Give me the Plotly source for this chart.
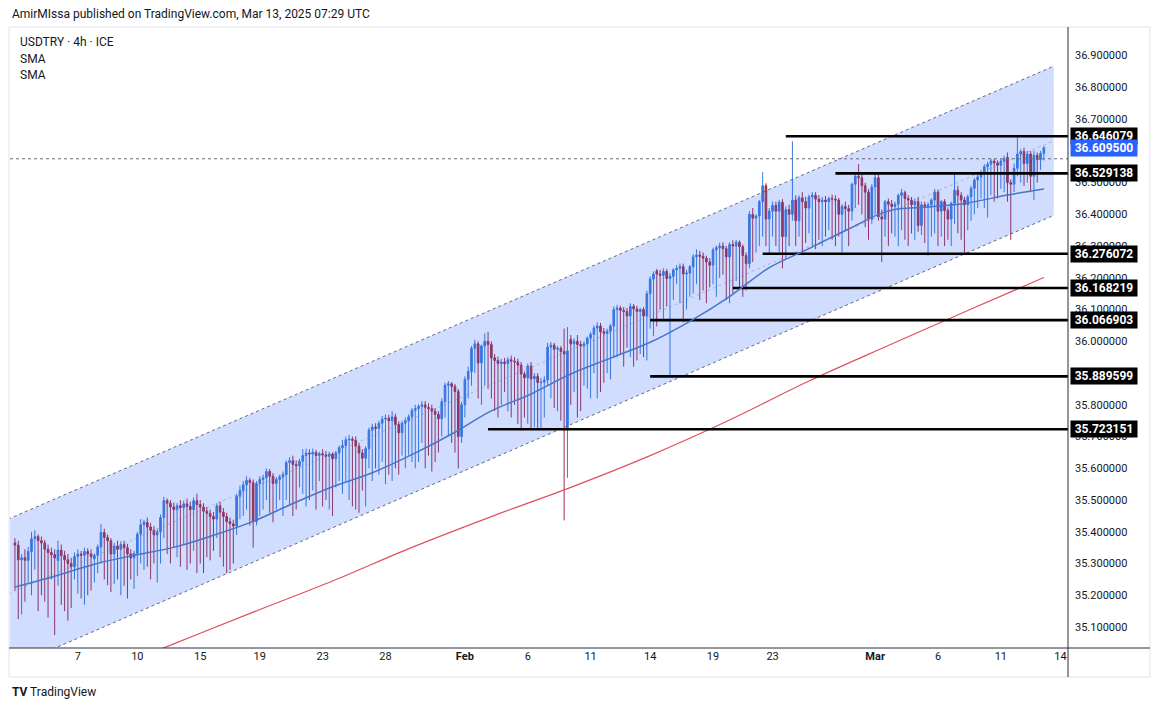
import pandas as pd
import plotly.graph_objects as go

# ---------------- data (USDTRY 4h) ----------------
OPEN = [
    35.365, 35.358, 35.312, 35.318, 35.310, 35.338,   # Jan 2
    35.378, 35.385, 35.372, 35.365, 35.345, 35.335,   # Jan 3
    35.328,                                           # Jan 5 (Sun)
    35.310, 35.342, 35.325, 35.312, 35.300, 35.290,   # Jan 6
    35.322, 35.330, 35.326, 35.338, 35.330, 35.315,   # Jan 7
    35.326, 35.352, 35.398, 35.382, 35.372, 35.330,   # Jan 8
    35.355, 35.345, 35.360, 35.350, 35.330, 35.318,   # Jan 9
    35.332, 35.392, 35.422, 35.430, 35.415, 35.405,   # Jan 10
    35.390,                                           # Jan 12
    35.400, 35.445, 35.498, 35.490, 35.478, 35.470,   # Jan 13
    35.482, 35.476, 35.488, 35.480, 35.470, 35.498,   # Jan 14
    35.486, 35.478, 35.465, 35.458, 35.448, 35.440,   # Jan 15
    35.482, 35.462, 35.448, 35.432, 35.425, 35.418,   # Jan 16
    35.512, 35.530, 35.548, 35.562, 35.555, 35.432,   # Jan 17
    35.552,                                           # Jan 19
    35.565, 35.570, 35.590, 35.575, 35.552, 35.565,   # Jan 20
    35.572, 35.580, 35.618, 35.624, 35.612, 35.608,   # Jan 21
    35.622, 35.640, 35.648, 35.645, 35.650, 35.640,   # Jan 22
    35.646, 35.642, 35.638, 35.645, 35.630, 35.648,   # Jan 23
    35.665, 35.672, 35.690, 35.692, 35.688, 35.670,   # Jan 24
    35.648,                                           # Jan 26
    35.632, 35.662, 35.720, 35.730, 35.726, 35.742,   # Jan 27
    35.755, 35.758, 35.750, 35.762, 35.738, 35.712,   # Jan 28
    35.742, 35.750, 35.762, 35.782, 35.788, 35.795,   # Jan 29
    35.800, 35.792, 35.788, 35.780, 35.770, 35.756,   # Jan 30
    35.810, 35.862, 35.866, 35.858, 35.842, 35.700,   # Jan 31
    35.800,                                           # Feb 2
    35.880, 35.905, 35.978, 35.992, 35.932, 35.985,   # Feb 3
    36.000, 35.990, 35.948, 35.940, 35.930, 35.935,   # Feb 4
    35.930, 35.942, 35.938, 35.935, 35.925, 35.897,   # Feb 5
    35.885, 35.922, 35.882, 35.890, 35.870, 35.872,   # Feb 6
    35.878, 35.982, 35.988, 35.975, 35.978, 35.968,   # Feb 7
    35.723,                                           # Feb 9
    36.006, 35.992, 36.000, 35.990, 35.985, 35.992,   # Feb 10
    36.010, 36.022, 36.042, 36.048, 36.030, 36.025,   # Feb 11
    36.032, 36.048, 36.100, 36.105, 36.098, 36.094,   # Feb 12
    36.080, 36.110, 36.102, 36.094, 36.100, 36.080,   # Feb 13
    36.150, 36.196, 36.222, 36.212, 36.208, 36.220,   # Feb 14
    36.198,                                           # Feb 16
    36.205, 36.225, 36.230, 36.235, 36.212, 36.215,   # Feb 17
    36.235, 36.266, 36.272, 36.268, 36.262, 36.250,   # Feb 18
    36.240, 36.288, 36.295, 36.300, 36.292, 36.266,   # Feb 19
    36.305, 36.300, 36.312, 36.298, 36.270, 36.245,   # Feb 20
    36.400, 36.388, 36.395, 36.440, 36.490, 36.385,   # Feb 21
    36.410,                                           # Feb 23
    36.428, 36.410, 36.438, 36.330, 36.415, 36.400,   # Feb 24
    36.445, 36.380, 36.452, 36.440, 36.420, 36.455,   # Feb 25
    36.460, 36.448, 36.440, 36.445, 36.440, 36.450,   # Feb 26
    36.448, 36.445, 36.400, 36.425, 36.418, 36.410,   # Feb 27
    36.495, 36.520, 36.515, 36.490, 36.470, 36.385,   # Feb 28
    36.486,                                           # Mar 2
    36.515, 36.392, 36.385, 36.440, 36.432, 36.425,   # Mar 3
    36.432, 36.460, 36.468, 36.450, 36.445, 36.430,   # Mar 4
    36.440, 36.365, 36.430, 36.425, 36.430, 36.445,   # Mar 5
    36.470, 36.410, 36.440, 36.412, 36.385, 36.435,   # Mar 6
    36.476, 36.460, 36.445, 36.430, 36.455, 36.482,   # Mar 7
    36.508,                                           # Mar 9
    36.518, 36.532, 36.550, 36.558, 36.568, 36.562,   # Mar 10
    36.555, 36.568, 36.580, 36.500, 36.495, 36.545,   # Mar 11
    36.590, 36.598, 36.560, 36.590, 36.520, 36.586,   # Mar 12
    36.572, 36.592,                                   # Mar 13
]
HIGH = [
    35.380, 35.372, 35.330, 35.345, 35.352, 35.400,
    35.405, 35.392, 35.385, 35.375, 35.360, 35.350,
    35.345,
    35.372, 35.360, 35.340, 35.330, 35.318, 35.335,
    35.345, 35.340, 35.350, 35.348, 35.345, 35.332,
    35.360, 35.425, 35.410, 35.392, 35.380, 35.365,
    35.372, 35.370, 35.372, 35.362, 35.345, 35.340,
    35.400, 35.440, 35.438, 35.445, 35.428, 35.418,
    35.410,
    35.455, 35.510, 35.505, 35.500, 35.492, 35.490,
    35.500, 35.498, 35.505, 35.495, 35.508, 35.520,
    35.500, 35.490, 35.478, 35.470, 35.462, 35.490,
    35.495, 35.475, 35.460, 35.445, 35.438, 35.520,
    35.545, 35.560, 35.575, 35.570, 35.565, 35.560,
    35.575,
    35.580, 35.600, 35.598, 35.585, 35.572, 35.580,
    35.590, 35.625, 35.635, 35.640, 35.625, 35.630,
    35.660, 35.662, 35.660, 35.662, 35.658, 35.652,
    35.660, 35.655, 35.652, 35.650, 35.655, 35.672,
    35.690, 35.700, 35.705, 35.700, 35.700, 35.680,
    35.660,
    35.670, 35.728, 35.740, 35.742, 35.750, 35.765,
    35.770, 35.768, 35.780, 35.772, 35.748, 35.750,
    35.760, 35.770, 35.790, 35.800, 35.802, 35.812,
    35.812, 35.805, 35.800, 35.790, 35.780, 35.820,
    35.870, 35.875, 35.872, 35.866, 35.850, 35.810,
    35.890,
    35.920, 35.985, 36.005, 36.000, 35.990, 36.025,
    36.030, 36.000, 35.960, 35.952, 35.945, 35.948,
    35.950, 35.955, 35.950, 35.945, 35.935, 35.905,
    35.930, 35.935, 35.900, 35.900, 35.885, 35.890,
    35.995, 35.998, 35.995, 35.985, 35.985, 36.040,
    36.045,
    36.020, 36.010, 36.020, 36.002, 36.000, 36.015,
    36.030, 36.050, 36.060, 36.058, 36.042, 36.040,
    36.055, 36.110, 36.115, 36.112, 36.108, 36.105,
    36.120, 36.118, 36.112, 36.105, 36.108, 36.160,
    36.205, 36.220, 36.228, 36.225, 36.230, 36.228,
    36.215,
    36.230, 36.240, 36.245, 36.245, 36.225, 36.240,
    36.275, 36.290, 36.285, 36.280, 36.270, 36.262,
    36.295, 36.302, 36.310, 36.312, 36.300, 36.312,
    36.318, 36.320, 36.318, 36.305, 36.280, 36.410,
    36.420, 36.400, 36.445, 36.533, 36.498, 36.420,
    36.440,
    36.440, 36.445, 36.448, 36.425, 36.430, 36.630,
    36.460, 36.460, 36.470, 36.455, 36.462, 36.470,
    36.470, 36.460, 36.455, 36.458, 36.455, 36.462,
    36.460, 36.452, 36.432, 36.440, 36.430, 36.500,
    36.525, 36.558, 36.525, 36.500, 36.480, 36.495,
    36.530,
    36.525, 36.415, 36.445, 36.450, 36.445, 36.440,
    36.465, 36.480, 36.475, 36.460, 36.455, 36.450,
    36.455, 36.440, 36.440, 36.438, 36.450, 36.480,
    36.478, 36.445, 36.448, 36.422, 36.440, 36.530,
    36.490, 36.470, 36.455, 36.462, 36.490, 36.515,
    36.525,
    36.540, 36.558, 36.565, 36.575, 36.575, 36.570,
    36.575, 36.585, 36.595, 36.510, 36.560, 36.646,
    36.605, 36.610, 36.600, 36.600, 36.600, 36.595,
    36.600, 36.615,
]
LOW = [
    35.215, 35.125, 35.140, 35.180, 35.240, 35.200,
    35.280, 35.150, 35.200, 35.180, 35.130, 35.250,
    35.075,
    35.230, 35.170, 35.150, 35.120, 35.160, 35.250,
    35.205, 35.190, 35.170, 35.200, 35.215, 35.240,
    35.270, 35.300, 35.250, 35.232, 35.210, 35.235,
    35.250, 35.200, 35.230, 35.190, 35.250, 35.220,
    35.260, 35.300, 35.280, 35.290, 35.250, 35.300,
    35.240,
    35.300, 35.380, 35.330, 35.300, 35.350, 35.320,
    35.290, 35.360, 35.280, 35.300, 35.340, 35.270,
    35.300, 35.270, 35.320, 35.310, 35.340, 35.380,
    35.320, 35.290, 35.270, 35.280, 35.300, 35.390,
    35.440, 35.450, 35.470, 35.420, 35.350, 35.420,
    35.450,
    35.470, 35.500, 35.460, 35.430, 35.470, 35.500,
    35.450, 35.500, 35.480, 35.450, 35.470, 35.540,
    35.520, 35.480, 35.500, 35.530, 35.470, 35.560,
    35.480, 35.500, 35.470, 35.450, 35.540, 35.560,
    35.520, 35.560, 35.500, 35.480, 35.470, 35.460,
    35.530,
    35.480, 35.600, 35.560, 35.600, 35.580, 35.620,
    35.550, 35.580, 35.560, 35.600, 35.580, 35.640,
    35.600, 35.640, 35.620, 35.600, 35.620, 35.680,
    35.600, 35.640, 35.590, 35.620, 35.650, 35.700,
    35.760, 35.700, 35.680, 35.650, 35.600, 35.680,
    35.760,
    35.820, 35.860, 35.900, 35.820, 35.800, 35.860,
    35.850, 35.820, 35.780, 35.760, 35.800, 35.840,
    35.780, 35.760, 35.800, 35.740, 35.720, 35.760,
    35.740, 35.720, 35.730, 35.720, 35.725, 35.760,
    35.860, 35.820, 35.790, 35.780, 35.750, 35.436,
    35.570,
    35.800, 35.840, 35.760, 35.780, 35.860, 35.850,
    35.820, 35.900, 35.820, 35.840, 35.870, 35.900,
    35.880, 35.950, 35.950, 35.960, 35.920, 35.980,
    35.950, 35.920, 35.940, 35.960, 35.950, 35.940,
    36.040, 36.016, 36.047, 36.100, 36.072, 36.110,
    35.890,
    36.130, 36.180, 36.120, 36.060, 36.100, 36.140,
    36.150, 36.180, 36.130, 36.160, 36.120, 36.170,
    36.180, 36.140, 36.200, 36.210, 36.130, 36.120,
    36.150, 36.190, 36.170, 36.140, 36.160, 36.230,
    36.250, 36.280, 36.300, 36.330, 36.300, 36.276,
    36.330,
    36.300, 36.280, 36.230, 36.260, 36.300, 36.380,
    36.300, 36.330, 36.280, 36.310, 36.340, 36.300,
    36.290, 36.320, 36.300, 36.330, 36.350, 36.320,
    36.300, 36.330, 36.280, 36.350, 36.300, 36.380,
    36.420, 36.430, 36.400, 36.360, 36.320, 36.370,
    36.400,
    36.380, 36.250, 36.330, 36.300, 36.340, 36.330,
    36.300, 36.350, 36.320, 36.300, 36.340, 36.320,
    36.345, 36.335, 36.310, 36.270, 36.330, 36.340,
    36.300, 36.330, 36.300, 36.320, 36.300, 36.370,
    36.340, 36.320, 36.280, 36.350, 36.380, 36.400,
    36.420,
    36.450, 36.420, 36.390, 36.460, 36.440, 36.450,
    36.480, 36.470, 36.440, 36.320, 36.470, 36.520,
    36.500, 36.490, 36.500, 36.470, 36.445, 36.500,
    36.540, 36.570,
]
CLOSE = [
    35.358, 35.312, 35.318, 35.310, 35.338, 35.378,
    35.385, 35.372, 35.365, 35.345, 35.335, 35.328,
    35.318,
    35.342, 35.325, 35.312, 35.300, 35.290, 35.322,
    35.330, 35.326, 35.338, 35.330, 35.322, 35.326,
    35.352, 35.398, 35.382, 35.372, 35.330, 35.355,
    35.345, 35.360, 35.350, 35.330, 35.318, 35.332,
    35.392, 35.422, 35.430, 35.415, 35.405, 35.390,
    35.400,
    35.445, 35.498, 35.490, 35.478, 35.470, 35.482,
    35.476, 35.488, 35.480, 35.470, 35.498, 35.486,
    35.478, 35.465, 35.458, 35.448, 35.440, 35.482,
    35.462, 35.448, 35.432, 35.425, 35.418, 35.512,
    35.530, 35.548, 35.562, 35.555, 35.432, 35.552,
    35.565,
    35.570, 35.590, 35.575, 35.552, 35.565, 35.572,
    35.580, 35.618, 35.624, 35.612, 35.608, 35.622,
    35.640, 35.648, 35.645, 35.650, 35.640, 35.646,
    35.642, 35.638, 35.645, 35.630, 35.648, 35.665,
    35.672, 35.690, 35.692, 35.688, 35.670, 35.648,
    35.632,
    35.662, 35.720, 35.730, 35.726, 35.742, 35.755,
    35.758, 35.750, 35.762, 35.738, 35.712, 35.742,
    35.750, 35.762, 35.782, 35.788, 35.795, 35.800,
    35.792, 35.788, 35.780, 35.770, 35.756, 35.810,
    35.862, 35.866, 35.858, 35.842, 35.700, 35.800,
    35.880,
    35.905, 35.978, 35.992, 35.932, 35.985, 36.000,
    35.990, 35.948, 35.940, 35.930, 35.935, 35.930,
    35.942, 35.938, 35.935, 35.925, 35.897, 35.885,
    35.922, 35.882, 35.890, 35.870, 35.872, 35.878,
    35.982, 35.988, 35.975, 35.978, 35.968, 35.960,
    35.970,
    35.992, 36.000, 35.990, 35.985, 35.992, 36.010,
    36.022, 36.042, 36.048, 36.030, 36.025, 36.032,
    36.048, 36.100, 36.105, 36.098, 36.094, 36.080,
    36.110, 36.102, 36.094, 36.100, 36.080, 36.150,
    36.196, 36.212, 36.212, 36.208, 36.220, 36.198,
    36.205,
    36.225, 36.230, 36.235, 36.212, 36.215, 36.235,
    36.266, 36.272, 36.268, 36.262, 36.250, 36.240,
    36.288, 36.295, 36.300, 36.292, 36.266, 36.305,
    36.300, 36.312, 36.298, 36.270, 36.245, 36.400,
    36.388, 36.395, 36.440, 36.490, 36.385, 36.410,
    36.428,
    36.410, 36.438, 36.330, 36.415, 36.400, 36.445,
    36.380, 36.452, 36.440, 36.420, 36.455, 36.460,
    36.448, 36.440, 36.445, 36.440, 36.450, 36.448,
    36.445, 36.400, 36.425, 36.418, 36.410, 36.495,
    36.520, 36.515, 36.490, 36.470, 36.385, 36.486,
    36.515,
    36.392, 36.385, 36.440, 36.432, 36.425, 36.432,
    36.460, 36.468, 36.450, 36.445, 36.430, 36.440,
    36.365, 36.430, 36.425, 36.430, 36.445, 36.470,
    36.410, 36.440, 36.412, 36.385, 36.435, 36.476,
    36.460, 36.445, 36.430, 36.455, 36.482, 36.508,
    36.518,
    36.532, 36.550, 36.558, 36.568, 36.562, 36.555,
    36.568, 36.575, 36.500, 36.495, 36.545, 36.590,
    36.598, 36.560, 36.590, 36.520, 36.586, 36.572,
    36.592, 36.6095,
]

# SMA lines (values read at regular bar steps)
SMA_FAST_STEP = 12
SMA_FAST = [35.226, 35.260, 35.298, 35.326, 35.351, 35.389, 35.433, 35.489, 35.542,
            35.586, 35.643, 35.708, 35.781, 35.834, 35.897, 35.947, 35.997, 36.063,
            36.141, 36.232, 36.292, 36.354, 36.411, 36.423, 36.436, 36.461]
SMA_FAST_LAST = 36.480
SMA_SLOW_START = 24
SMA_SLOW_STEP = 24
SMA_SLOW = [34.947, 35.047, 35.147, 35.245, 35.351, 35.448, 35.540, 35.640,
            35.752, 35.875, 35.987, 36.097]
SMA_SLOW_LAST = 36.201

# horizontal levels drawn on the chart: (price, start bar time)
LEVEL_PRICES = [36.646079, 36.529138, 36.276072, 36.168219, 36.066903, 35.889599, 35.723151]
LEVEL_STARTS = ["2025-02-24 12:00", "2025-02-27 00:00", "2025-02-21 12:00", "2025-02-20 00:00",
                "2025-02-14 00:00", "2025-02-14 00:00", "2025-02-04 00:00"]
LAST_PRICE = 36.6095
PRICE_LINE = 36.575   # dotted horizontal price line

# parallel channel (bar index anchors and prices)
CHANNEL_X = [-2, 314]
CHANNEL_UPPER = [35.440, 36.867]
CHANNEL_LOWER = [34.970, 36.397]

TICK_DATES = ["2025-01-07", "2025-01-10", "2025-01-15", "2025-01-19", "2025-01-23", "2025-01-28",
              "2025-02-02", "2025-02-06", "2025-02-11", "2025-02-14", "2025-02-19", "2025-02-23",
              "2025-03-02", "2025-03-06", "2025-03-11", "2025-03-14"]
TICK_TEXT = ["7", "10", "15", "19", "23", "28", "<b>Feb</b>", "6", "11", "14", "19", "23",
             "<b>Mar</b>", "6", "11", "14"]

# ---------------- styling ----------------
UP = "#3b7bd8"
DOWN = "#a8293f"
TXT = "#131722"
FONT = "Roboto, 'Open Sans', sans-serif"
X_RANGE = [-1.5, 318.3]
Y_RANGE = [35.034, 36.987]


def session_bars(start, end):
    out = []
    t = pd.Timestamp(start)
    stop = pd.Timestamp(end)
    while t <= stop:
        wd = t.dayofweek
        if wd < 5 or (wd == 6 and t.hour == 20):
            out.append(t)
        t += pd.Timedelta(hours=4)
    return out


cal = session_bars("2025-01-02 00:00", "2025-03-14 20:00")
n = min(len(CLOSE), len(OPEN), len(HIGH), len(LOW))
bar_x = list(range(n))
pos = {t: i for i, t in enumerate(cal)}


def first_of_day(d):
    d = pd.Timestamp(d).date()
    return next(i for i, t in enumerate(cal) if t.date() == d)


tickvals = [first_of_day(d) for d in TICK_DATES]

fig = go.Figure()

# channel fill
fig.add_trace(go.Scatter(
    x=[CHANNEL_X[0], CHANNEL_X[1], CHANNEL_X[1], CHANNEL_X[0], CHANNEL_X[0]],
    y=[CHANNEL_UPPER[0], CHANNEL_UPPER[1], CHANNEL_LOWER[1], CHANNEL_LOWER[0], CHANNEL_UPPER[0]],
    fill="toself", fillcolor="rgba(41,98,255,0.22)", mode="lines",
    line=dict(width=0), hoverinfo="skip", showlegend=False))
for ys, col in [(CHANNEL_UPPER, "rgba(80,90,110,0.9)"), (CHANNEL_LOWER, "rgba(80,90,110,0.9)"),
                ([(a + b) / 2 for a, b in zip(CHANNEL_UPPER, CHANNEL_LOWER)], "rgba(120,130,150,0.45)")]:
    fig.add_trace(go.Scatter(x=CHANNEL_X, y=ys, mode="lines",
                             line=dict(color=col, width=1, dash="dot"),
                             hoverinfo="skip", showlegend=False))

# slow SMA (red)
slow_x = list(range(SMA_SLOW_START, SMA_SLOW_START + SMA_SLOW_STEP * len(SMA_SLOW), SMA_SLOW_STEP)) + [n - 1]
fig.add_trace(go.Scatter(x=slow_x, y=SMA_SLOW + [SMA_SLOW_LAST], mode="lines", line_shape="spline",
                         line=dict(color="#e0505e", width=1.2), hoverinfo="skip", showlegend=False))

# level lines
for p, s in zip(LEVEL_PRICES, LEVEL_STARTS):
    fig.add_trace(go.Scatter(x=[pos[pd.Timestamp(s)], X_RANGE[1] + 5], y=[p, p], mode="lines",
                             line=dict(color="#000000", width=2.6), hoverinfo="skip", showlegend=False))

# candles
fig.add_trace(go.Candlestick(
    x=bar_x, open=OPEN[:n], high=HIGH[:n], low=LOW[:n], close=CLOSE[:n],
    increasing=dict(line=dict(color=UP, width=1), fillcolor=UP),
    decreasing=dict(line=dict(color=DOWN, width=1), fillcolor=DOWN),
    whiskerwidth=0, hoverinfo="skip", showlegend=False))

# fast SMA (blue)
fast_x = list(range(0, SMA_FAST_STEP * len(SMA_FAST), SMA_FAST_STEP)) + [n - 1]
fig.add_trace(go.Scatter(x=fast_x, y=SMA_FAST + [SMA_FAST_LAST], mode="lines", line_shape="spline",
                         line=dict(color="#4a74c9", width=1.5), hoverinfo="skip", showlegend=False))

shapes = [
    # dotted price line
    dict(type="line", xref="paper", yref="y", x0=0, x1=1, y0=PRICE_LINE, y1=PRICE_LINE,
         line=dict(color="#6a6d78", width=1, dash="dot")),
    # outer frame
    dict(type="rect", xref="paper", yref="paper", x0=-0.0009, x1=1.0775, y0=-0.0468, y1=1.0016,
         line=dict(color="#e0e3eb", width=1)),
    # time axis line
    dict(type="line", xref="paper", yref="paper", x0=-0.0009, x1=1.0775, y0=0, y1=0,
         line=dict(color="#2a2e39", width=1)),
    # price axis separator
    dict(type="line", xref="paper", yref="paper", x0=1, x1=1, y0=-0.0468, y1=1.0016,
         line=dict(color="#2a2e39", width=1)),
]

annotations = []
for p in LEVEL_PRICES:
    annotations.append(dict(xref="paper", yref="y", x=1, y=p, xanchor="left", yanchor="middle",
                            xshift=2, text=f"<b>{p:.6f}</b>", showarrow=False,
                            bgcolor="#000000", font=dict(color="white", size=12, family=FONT),
                            width=64, height=14, borderpad=1))
annotations.append(dict(xref="paper", yref="y", x=1, y=LAST_PRICE, xanchor="left", yanchor="middle",
                        xshift=2, text=f"<b>{LAST_PRICE:.6f}</b>", showarrow=False,
                        bgcolor="#2962ff", font=dict(color="white", size=12, family=FONT),
                        width=64, height=14, borderpad=1))
annotations += [
    dict(xref="paper", yref="paper", x=0, y=1.0226, xanchor="left", yanchor="middle",
         text="AmirMIssa published on TradingView.com, Mar 13, 2025 07:29 UTC", showarrow=False,
         font=dict(color=TXT, size=12, family=FONT)),
    dict(xref="paper", yref="paper", x=0.0076, y=0.9774, xanchor="left", yanchor="middle",
         text="USDTRY · 4h · ICE", showarrow=False, font=dict(color=TXT, size=12, family=FONT)),
    dict(xref="paper", yref="paper", x=0.0076, y=0.950, xanchor="left", yanchor="middle",
         text="SMA", showarrow=False, font=dict(color=TXT, size=12, family=FONT)),
    dict(xref="paper", yref="paper", x=0.0076, y=0.924, xanchor="left", yanchor="middle",
         text="SMA", showarrow=False, font=dict(color=TXT, size=12, family=FONT)),
    dict(xref="paper", yref="paper", x=0, y=-0.071, xanchor="left", yanchor="middle",
         text="<b>TV</b> TradingView", showarrow=False, font=dict(color=TXT, size=12, family=FONT)),
]

fig.update_layout(
    width=1154, height=711,
    margin=dict(l=10, r=86, t=28, b=63),
    paper_bgcolor="white", plot_bgcolor="white",
    font=dict(family=FONT, color=TXT, size=11),
    showlegend=False,
    shapes=shapes, annotations=annotations,
    xaxis=dict(range=X_RANGE, tickmode="array", tickvals=tickvals, ticktext=TICK_TEXT,
               showgrid=False, zeroline=False, showline=False, ticks="",
               tickfont=dict(size=11, color=TXT, family=FONT),
               rangeslider=dict(visible=False), fixedrange=True),
    yaxis=dict(range=Y_RANGE, side="right", dtick=0.1, tick0=35.0, tickformat=".6f",
               showgrid=False, zeroline=False, showline=False, ticks="",
               ticklabelstandoff=6, tickfont=dict(size=11, color=TXT, family=FONT),
               fixedrange=True),
)

fig.write_html("out.html", config={"displayModeBar": False},
               post_script="document.body.style.margin='0';document.body.style.overflow='hidden';")
